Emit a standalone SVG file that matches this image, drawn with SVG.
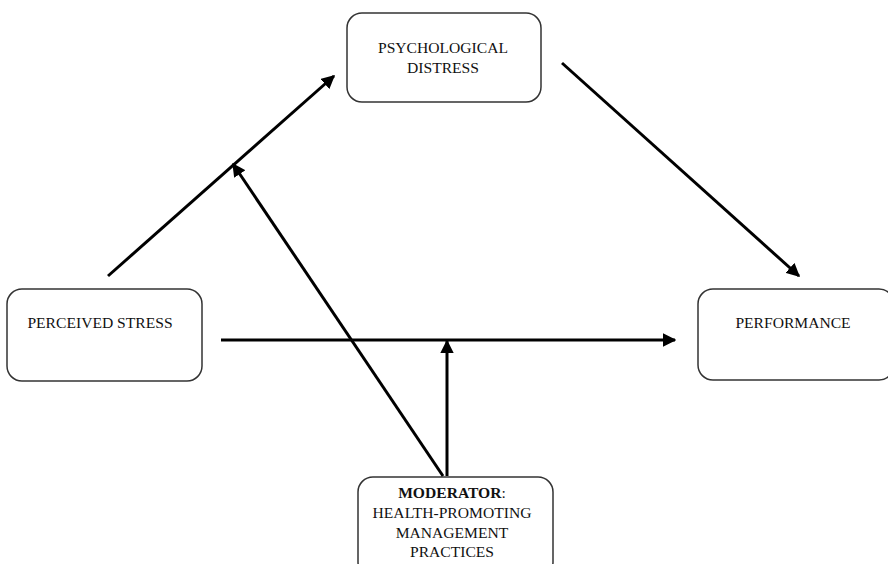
<svg xmlns="http://www.w3.org/2000/svg" width="888" height="564" viewBox="0 0 888 564">
<style>
.box{fill:#fff;stroke:#333;stroke-width:1.5}
.t{font-family:"Liberation Serif",serif;font-size:15.6px;fill:#111;text-anchor:middle}
.c{stroke:#000;stroke-width:3;fill:none;marker-end:url(#ah)}
</style>
<defs>
<marker id="ah" viewBox="0 0 10 10" refX="9" refY="5" markerWidth="4.5" markerHeight="4.5" orient="auto" markerUnits="strokeWidth">
<path d="M0,0 L10,5 L0,10 Z" fill="#000"/>
</marker>
</defs>
<rect width="888" height="564" fill="#fff"/>
<g id="distress">
<rect class="box" x="347" y="13" width="194" height="89" rx="15"/>
<text class="t" x="443" y="53">PSYCHOLOGICAL</text>
<text class="t" x="443" y="73">DISTRESS</text>
</g>
<g id="stress">
<rect class="box" x="7" y="289" width="195" height="92" rx="15"/>
<text class="t" x="100" y="328">PERCEIVED STRESS</text>
</g>
<g id="performance">
<rect class="box" x="698" y="289" width="196" height="91" rx="15"/>
<text class="t" x="793" y="328">PERFORMANCE</text>
</g>
<g id="moderator">
<rect class="box" x="358" y="477" width="195" height="100" rx="15"/>
<text class="t" x="452" y="498"><tspan font-weight="bold">MODERATOR</tspan>:</text>
<text class="t" x="452" y="518">HEALTH-PROMOTING</text>
<text class="t" x="452" y="538">MANAGEMENT</text>
<text class="t" x="452" y="557">PRACTICES</text>
</g>
<g id="connectors">
<line class="c" x1="108" y1="276" x2="334" y2="76"/>
<line class="c" x1="562" y1="63" x2="799" y2="276"/>
<line class="c" x1="221" y1="340" x2="675" y2="340"/>
<line class="c" x1="447" y1="476" x2="447" y2="341"/>
<line class="c" x1="443" y1="476" x2="233" y2="164"/>
</g>
</svg>
